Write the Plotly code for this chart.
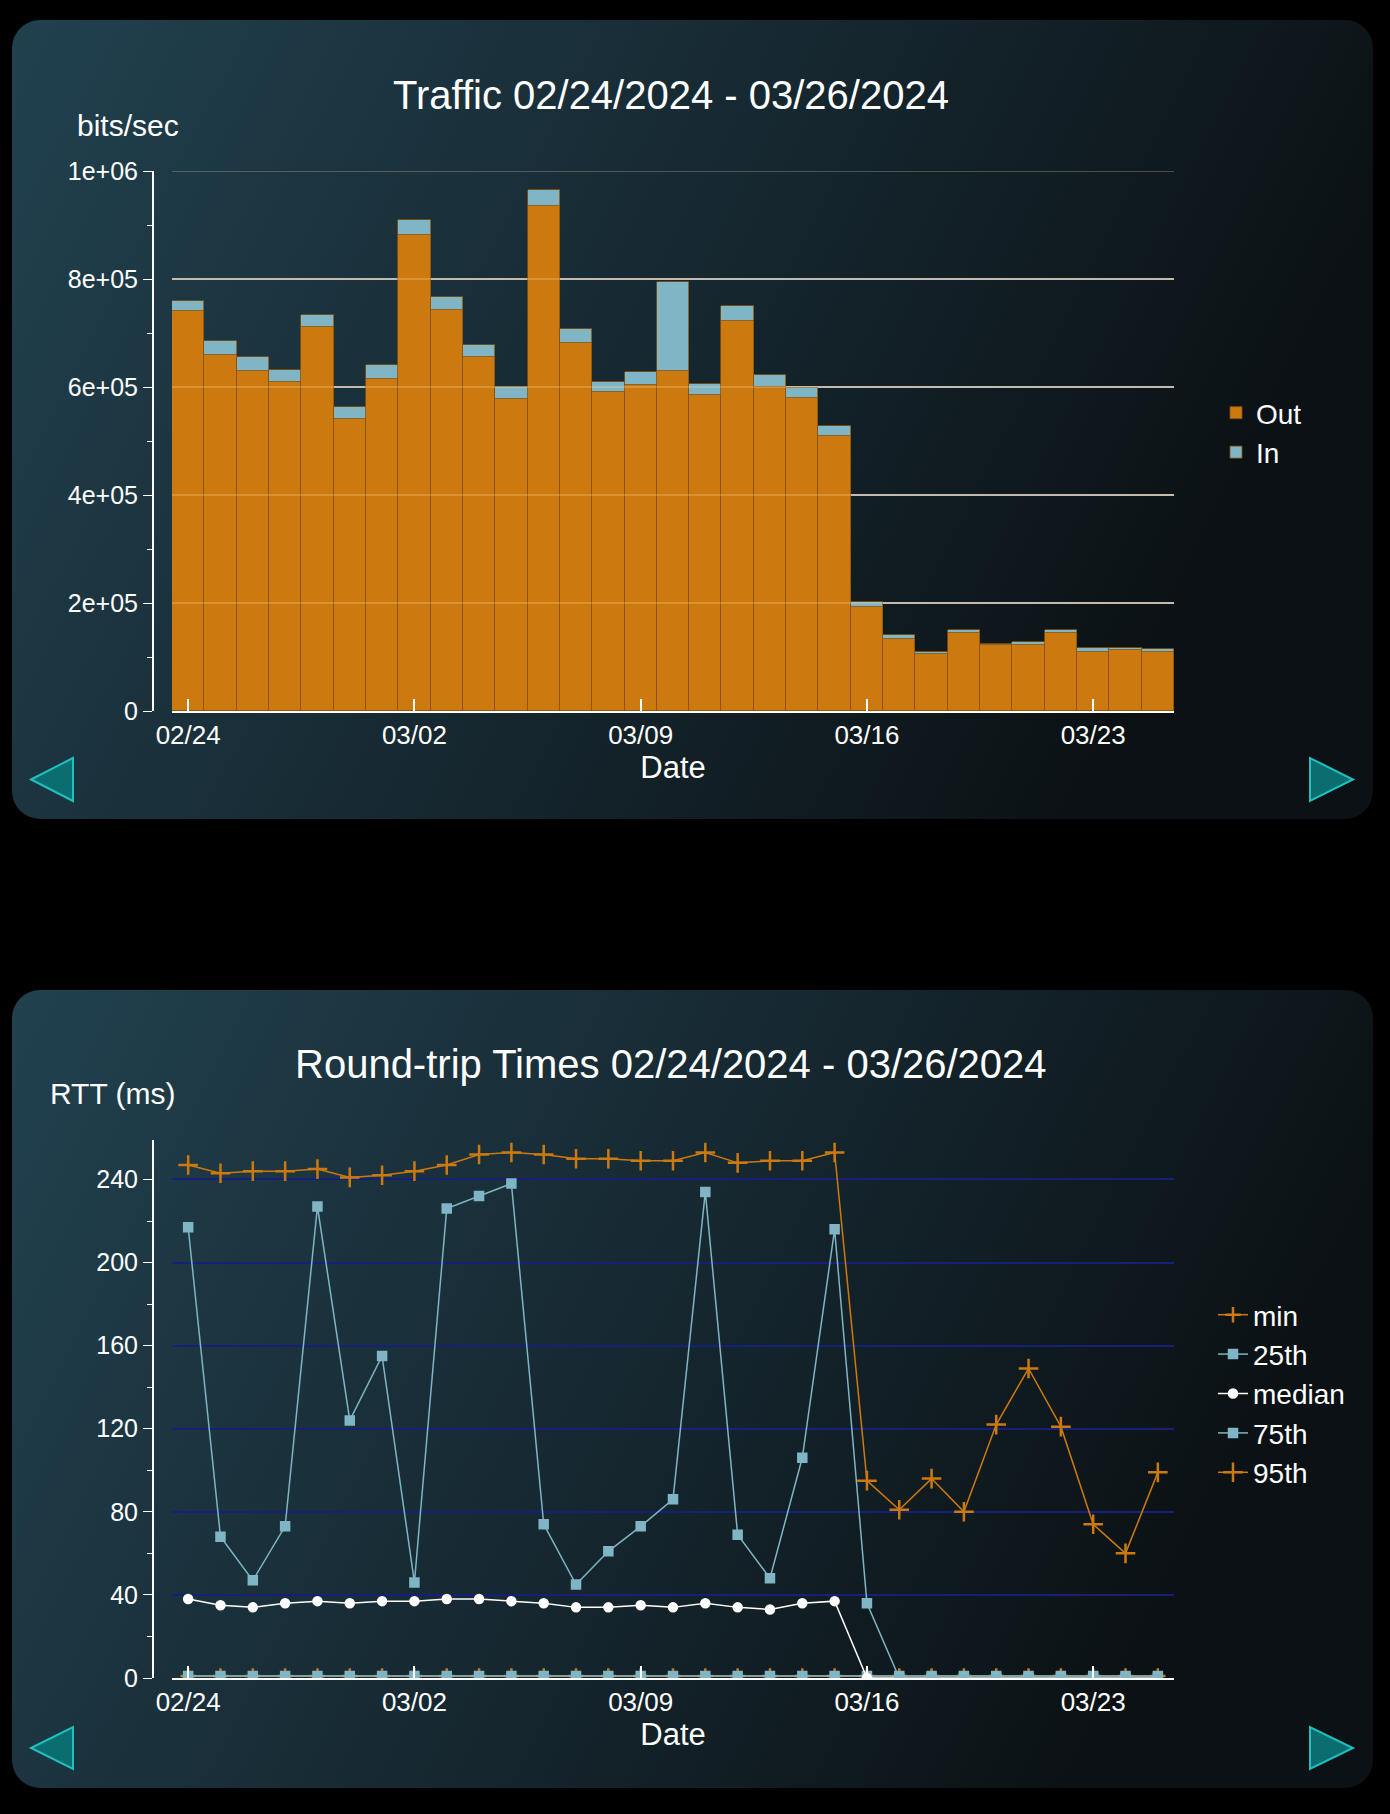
import base64
import plotly.graph_objects as go

W, H = 1390, 1814
days = ["2024-02-%02d" % d for d in range(24, 30)] + ["2024-03-%02d" % d for d in range(1, 26)]
traffic_out = [740e3, 660e3, 630e3, 610e3, 712e3, 540e3, 615e3, 882e3, 742e3, 655e3, 578e3, 935e3, 682e3,
               590e3, 603e3, 630e3, 585e3, 722e3, 600e3, 580e3, 510e3, 192e3, 133e3, 105e3, 145e3, 122e3,
               122e3, 145e3, 110e3, 113e3, 110e3]
traffic_in = [20e3, 25e3, 25e3, 22e3, 21e3, 23e3, 25e3, 28e3, 25e3, 22e3, 22e3, 30e3, 25e3,
              20e3, 25e3, 165e3, 20e3, 28e3, 22e3, 18e3, 18e3, 10e3, 7e3, 5e3, 5e3, 3e3,
              6e3, 5e3, 7e3, 4e3, 4e3]
rtt_min = [1] * 31
rtt_25 = [1] * 31
rtt_median = [38, 35, 34, 36, 37, 36, 37, 37, 38, 38, 37, 36, 34, 34, 35, 34, 36, 34, 33, 36, 37,
              0, 0, 0, 0, 0, 0, 0, 0, 0, 0]
rtt_75 = [217, 68, 47, 73, 227, 124, 155, 46, 226, 232, 238, 74, 45, 61, 73, 86, 234, 69, 48, 106, 216,
          36, 0, 0, 0, 0, 0, 0, 0, 0, 0]
rtt_95 = [247, 243, 244, 244, 245, 241, 242, 244, 247, 252, 253, 252, 250, 250, 249, 249, 253, 248, 249, 249, 253,
          95, 81, 96, 80, 122, 149, 121, 74, 60, 99]
tick_vals = ["2024-02-24", "2024-03-02", "2024-03-09", "2024-03-16", "2024-03-23"]
tick_text = ["02/24", "03/02", "03/09", "03/16", "03/23"]
traffic_ticks = [0, 2e5, 4e5, 6e5, 8e5, 1e6]
traffic_labels = ["0", "2e+05", "4e+05", "6e+05", "8e+05", "1e+06"]
rtt_ticks = [0, 40, 80, 120, 160, 200, 240]

ORANGE = "#cc7a10"
BLUE = "#7fb5c4"
FONT = "Liberation Sans, Arial, sans-serif"

def px(x): return x / W
def py(y): return 1 - y / H

fig = go.Figure()
fig.add_bar(x=days, y=traffic_out, name="Out", marker=dict(color=ORANGE, line=dict(color="#8a5208", width=0.8)),
            xaxis="x", yaxis="y", legend="legend", legendgroup="o")
fig.add_bar(x=days, y=traffic_in, name="In", marker=dict(color=BLUE, line=dict(color="#8a5208", width=0.8)),
            xaxis="x", yaxis="y", legend="legend", legendgroup="i")

series = [("min", rtt_min, ORANGE, "cross-thin-open", 11), ("25th", rtt_25, BLUE, "square", 8),
          ("median", rtt_median, "white", "circle", 8), ("75th", rtt_75, BLUE, "square", 8),
          ("95th", rtt_95, ORANGE, "cross-thin-open", 14)]
for name, vals, col, sym, sz in series:
    fig.add_scatter(x=days, y=vals, name=name, mode="lines+markers", line=dict(color=col, width=1.5),
                    marker=dict(symbol=sym, size=sz, color=col, line=dict(color=col, width=2.5)),
                    xaxis="x2", yaxis="y2", legend="legend2", legendgroup=name)

xcommon = dict(type="date", range=["2024-02-23 12:00", "2024-03-25 12:00"], tickvals=tick_vals, ticktext=tick_text,
               showline=True, linecolor="white", linewidth=2, ticks="inside", ticklen=12, tickcolor="white",
               tickwidth=2, showgrid=False, tickfont=dict(color="white", size=26),
               title=dict(text="Date", font=dict(color="white", size=31), standoff=2))
ycommon = dict(showline=True, linecolor="white", linewidth=2, ticks="outside", ticklen=9, tickcolor="white",
               tickfont=dict(color="white", size=25), zeroline=False, anchor="free", position=px(153))

fig.update_layout(
    width=W, height=H, margin=dict(l=0, r=0, t=0, b=0, autoexpand=False), paper_bgcolor="black",
    plot_bgcolor="rgba(0,0,0,0)", font=dict(family=FONT, color="white"), barmode="stack", bargap=0,
    xaxis=dict(domain=[px(172), px(1174)], anchor="y", **xcommon),
    yaxis=dict(domain=[py(711), py(171)], range=[0, 1e6], tickvals=traffic_ticks,
               ticktext=traffic_labels, gridcolor="#b0b0b0", gridwidth=1.5,
               minor=dict(dtick=1e5, ticks="outside", ticklen=5, tickcolor="white", showgrid=False), **ycommon),
    xaxis2=dict(domain=[px(172), px(1174)], anchor="y2", **xcommon),
    yaxis2=dict(domain=[py(1678), py(1140)], range=[0, 259], tickvals=rtt_ticks,
                gridcolor="#16207a", gridwidth=2,
                minor=dict(dtick=20, ticks="outside", ticklen=5, tickcolor="white", showgrid=False), **ycommon),
    legend=dict(x=px(1216), y=py(388), xanchor="left", yanchor="top", font=dict(size=28, color="white"),
                bgcolor="rgba(0,0,0,0)", traceorder="normal", itemwidth=30, tracegroupgap=8),
    legend2=dict(x=px(1213), y=py(1290), xanchor="left", yanchor="top", font=dict(size=28, color="white"),
                 bgcolor="rgba(0,0,0,0)", traceorder="normal", itemwidth=30, tracegroupgap=8),
)

# faint gridlines drawn over the bars
for v in traffic_ticks[1:]:
    fig.add_shape(type="line", xref="x domain", yref="y", x0=0, x1=1, y0=v, y1=v, layer="above",
                  line=dict(color="rgba(255,220,170,0.35)", width=1.5))

svg = ('<svg xmlns="http://www.w3.org/2000/svg" width="1361" height="800" viewBox="0 0 1361 800">'
       '<defs><linearGradient id="g" x1="0" y1="0" x2="1" y2="0.3">'
       '<stop offset="0" stop-color="#21414f"/><stop offset="0.5" stop-color="#172a33"/>'
       '<stop offset="1" stop-color="#0b1114"/></linearGradient></defs>'
       '<rect x="0" y="0" width="1361" height="800" rx="28" ry="28" fill="url(#g)"/></svg>')
src = "data:image/svg+xml;base64," + base64.b64encode(svg.encode()).decode()
for top, bot in [(20, 819), (990, 1788)]:
    fig.add_layout_image(source=src, xref="paper", yref="paper", x=px(12), y=py(top), sizex=px(1373) - px(12),
                         sizey=py(top) - py(bot), xanchor="left", yanchor="top", sizing="stretch", layer="below")

def tri(points):
    p = "M " + " L ".join("%f,%f" % (px(a), py(b)) for a, b in points) + " Z"
    return dict(type="path", path=p, xref="paper", yref="paper", fillcolor="#0a6e70",
                line=dict(color="#1fc0c0", width=2))

for t, b in [(758, 801), (1727, 1769)]:
    m = (t + b) / 2
    fig.add_shape(**tri([(31, m), (73, t), (73, b)]))
    fig.add_shape(**tri([(1310, t), (1310, b), (1353, m)]))

ann = [("Traffic 02/24/2024 - 03/26/2024", 671, 95, 40, "center"),
       ("bits/sec", 75, 126, 30, "left"),
       ("Round-trip Times 02/24/2024 - 03/26/2024", 671, 1064, 40, "center"),
       ("RTT (ms)", 48, 1093, 30, "left")]
for text, x, y, s, xa in ann:
    fig.add_annotation(text=text, x=px(x), y=py(y), xref="paper", yref="paper", showarrow=False,
                       xanchor=xa, yanchor="middle", font=dict(size=s, color="white"))

fig.write_html("out.html", config={"displayModeBar": False},
               post_script="document.body.style.margin='0';document.body.style.background='black';")
